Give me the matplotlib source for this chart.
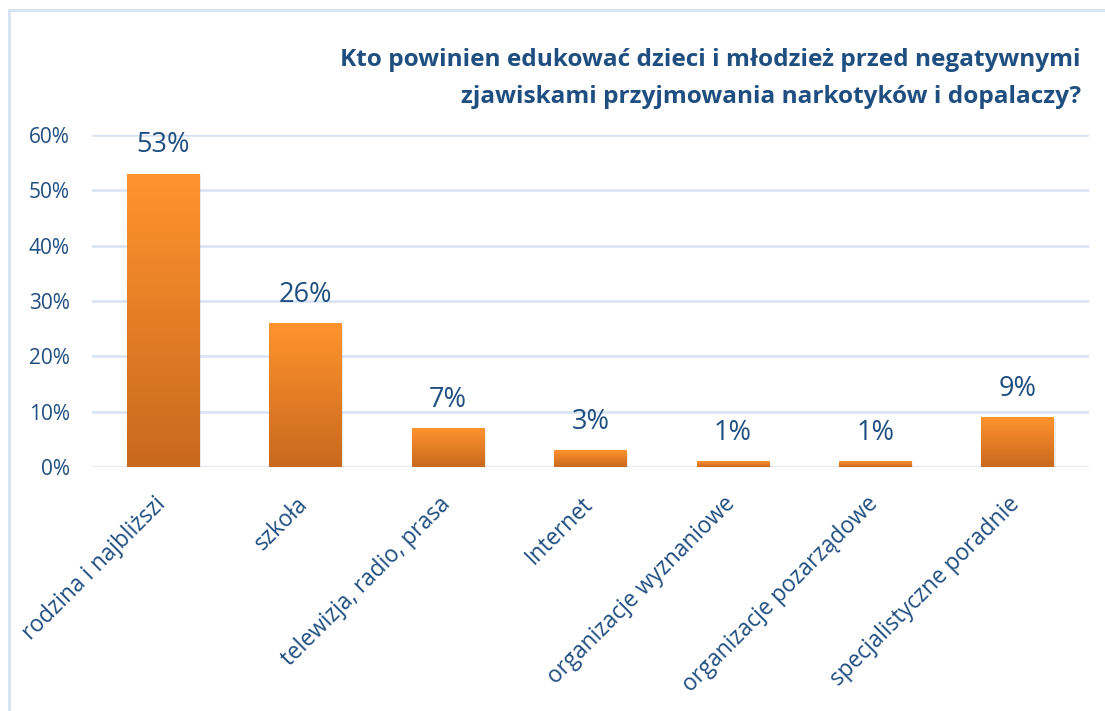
import matplotlib
matplotlib.use("Agg")
import matplotlib.pyplot as plt
import numpy as np
from matplotlib.patches import Rectangle
from matplotlib.colors import LinearSegmentedColormap
from matplotlib.transforms import ScaledTranslation

categories = ["rodzina i najbliższi", "szkoła", "telewizja, radio, prasa", "Internet",
              "organizacje wyznaniowe", "organizacje pozarządowe", "specjalistyczne poradnie"]
values = [53, 26, 7, 3, 1, 1, 9]
yticks = [0, 10, 20, 30, 40, 50, 60]
title_lines = ["Kto powinien edukować dzieci i młodzież przed negatywnymi",
               "zjawiskami przyjmowania narkotyków i dopalaczy?"]

plt.rcParams['font.family'] = ['Open Sans', 'DejaVu Sans']
txt = "#1F4E80"
W, H = 1105, 711
fig = plt.figure(figsize=(W/100, H/100), dpi=100)
fig.patch.set_facecolor("white")
# outer frame
fig.add_artist(Rectangle((9/W, -0.01), (1115-9)/W, (H-10)/H + 0.01, transform=fig.transFigure,
                         fill=False, edgecolor="#D6E2F2", linewidth=2))

x0, x1, y0, y1 = 92, 1089, 467, 135
ax = fig.add_axes([x0/W, 1 - y0/H, (x1-x0)/W, (y0-y1)/H])
for s in ax.spines.values():
    s.set_visible(False)
ax.set_yticks(yticks)
ax.set_yticklabels([f"{v}%" for v in yticks], fontsize=15, color=txt)
ax.tick_params(axis='y', length=0, pad=16)
ax.tick_params(axis='x', length=0)
ax.yaxis.grid(True, color="#D6E2F2", linewidth=1.8)
ax.set_axisbelow(True)
ax.set_xticks(range(len(categories)))
ax.set_xticklabels(categories, rotation=45, ha="right", va="top", rotation_mode="anchor",
                   fontsize=16.3, color=txt)
ax.tick_params(axis='x', pad=18)
for lab in ax.get_xticklabels():
    lab.set_transform(lab.get_transform() + ScaledTranslation(-7/72, 0, fig.dpi_scale_trans))

cmap = LinearSegmentedColormap.from_list("og", ["#C9691E", "#FF932E"])
grad = np.linspace(0, 1, 256).reshape(-1, 1)
bw = 0.51
bars = ax.bar(range(len(values)), values, width=bw, color="#F08A2A", zorder=2)
for b, v in zip(bars, values):
    sh = Rectangle((b.get_x()+0.01, -0.25), b.get_width(), v, facecolor="#000000", alpha=0.08, zorder=1.5)
    ax.add_patch(sh)
    im = ax.imshow(grad, cmap=cmap, origin="lower", aspect="auto",
                   extent=[b.get_x(), b.get_x()+b.get_width(), 0, v], zorder=2.5)
    im.set_clip_path(b)
    ax.text(b.get_x()+b.get_width()/2, v + 2.6, f"{v}%", ha="center", va="bottom",
            fontsize=19.5, color=txt)
ax.set_xlim(-0.5, len(categories)-0.5)
ax.set_ylim(0, 60)

fig.text(1081/W, 1 - 66/H, title_lines[0], ha="right", va="baseline", fontsize=17.6,
         fontweight="bold", color=txt)
fig.text(1081/W, 1 - 103/H, title_lines[1], ha="right", va="baseline", fontsize=17.6,
         fontweight="bold", color=txt)

fig.savefig("out.png", dpi=100, facecolor="white")
